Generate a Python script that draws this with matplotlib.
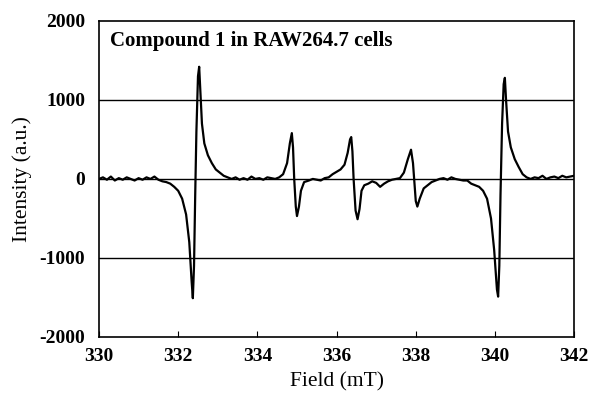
import matplotlib
matplotlib.use("Agg")
import matplotlib.pyplot as plt
import numpy as np

# field (mT) and intensity (a.u.)
field = [330.0, 330.1, 330.2, 330.3, 330.4, 330.5, 330.6, 330.7, 330.8, 330.9,
         331.0, 331.1, 331.2, 331.3, 331.4, 331.5, 331.6, 331.7, 331.8, 331.9,
         332.0, 332.1, 332.2, 332.28, 332.34, 332.37, 332.40, 332.43, 332.46, 332.50,
         332.53, 332.56, 332.60, 332.66, 332.75, 332.85, 332.95, 333.05, 333.15, 333.25,
         333.35, 333.45, 333.55, 333.65, 333.75, 333.85, 333.95, 334.05, 334.15, 334.25,
         334.35, 334.45, 334.55, 334.65, 334.75, 334.82, 334.87, 334.90, 334.93, 334.97,
         335.00, 335.05, 335.10, 335.18, 335.3, 335.4, 335.5, 335.6, 335.7, 335.8,
         335.9, 336.0, 336.1, 336.2, 336.28, 336.34, 336.37, 336.40, 336.43, 336.48,
         336.53, 336.58, 336.63, 336.7, 336.8, 336.9, 337.0, 337.1, 337.2, 337.3,
         337.4, 337.5, 337.6, 337.7, 337.8, 337.88, 337.93, 337.96, 338.0, 338.04,
         338.1, 338.2, 338.3, 338.4, 338.5, 338.6, 338.7, 338.8, 338.9, 339.0,
         339.1, 339.2, 339.3, 339.4, 339.5, 339.6, 339.7, 339.8, 339.9, 339.98,
         340.05, 340.08, 340.11, 340.14, 340.18, 340.22, 340.25, 340.28, 340.33, 340.4,
         340.5, 340.6, 340.7, 340.8, 340.9, 341.0, 341.1, 341.2, 341.3, 341.4,
         341.5, 341.6, 341.7, 341.8, 341.9, 342.0]
intensity = [0, 20, -10, 30, -20, 10, -10, 20, 0, -20,
             10, -10, 20, 0, 30, -10, -30, -40, -60, -100,
             -150, -250, -450, -800, -1300, -1510, -1100, -200, 600, 1300,
             1420, 1100, 700, 450, 300, 200, 120, 80, 40, 20,
             0, 20, -10, 10, -10, 30, 0, 10, -10, 20,
             10, 0, 20, 60, 200, 450, 580, 400, 0, -350,
             -470, -350, -150, -40, -20, 0, -10, -20, 10, 20,
             60, 90, 120, 180, 330, 500, 530, 350, 0, -400,
             -510, -380, -150, -80, -60, -30, -50, -100, -60, -30,
             -10, 0, 10, 80, 250, 370, 200, 0, -280, -350,
             -250, -120, -80, -40, -20, 0, 10, -10, 20, 0,
             -10, -20, -20, -60, -80, -100, -150, -250, -500, -900,
             -1400, -1490, -1100, -200, 700, 1200, 1280, 1000, 600, 400,
             250, 150, 60, 20, 0, 20, 10, 40, 0, 20,
             30, 10, 40, 20, 30, 40]

grid_levels = [-1000, 0, 1000]
x_ticks = [330, 332, 334, 336, 338, 340, 342]
y_ticks = [-2000, -1000, 0, 1000, 2000]

plt.rcParams['font.family'] = ['Liberation Serif', 'DejaVu Serif']

fig = plt.figure(figsize=(5.91, 4.03), dpi=100)
ax = fig.add_axes([0.1675, 0.164, 0.804, 0.784])

for g in grid_levels:
    ax.axhline(g, color='black', lw=1.0, zorder=1)
ax.plot(np.array(field), np.array(intensity), color='black', lw=1.6, zorder=2)

ax.set_xlim(330, 342)
ax.set_ylim(-2000, 2000)
ax.set_xticks(x_ticks)
ax.set_yticks(y_ticks)
ax.set_xticklabels([str(t) for t in x_ticks], fontweight='bold', fontsize=14)
ax.set_yticklabels([str(t) for t in y_ticks], fontweight='bold', fontsize=14)
ax.tick_params(axis='x', direction='in', length=4, pad=8)
ax.tick_params(axis='y', length=0, pad=10)
for s in ax.spines.values():
    s.set_linewidth(1.2)

ax.set_xlabel("Field (mT)", fontsize=15.5, labelpad=5)
ax.set_ylabel("Intensity (a.u.)", fontsize=15.5, labelpad=5)
ax.text(0.023, 0.935, "Compound 1 in RAW264.7 cells", transform=ax.transAxes,
        fontsize=15, fontweight='bold', va='center', ha='left')

fig.savefig("out.png", dpi=100)
